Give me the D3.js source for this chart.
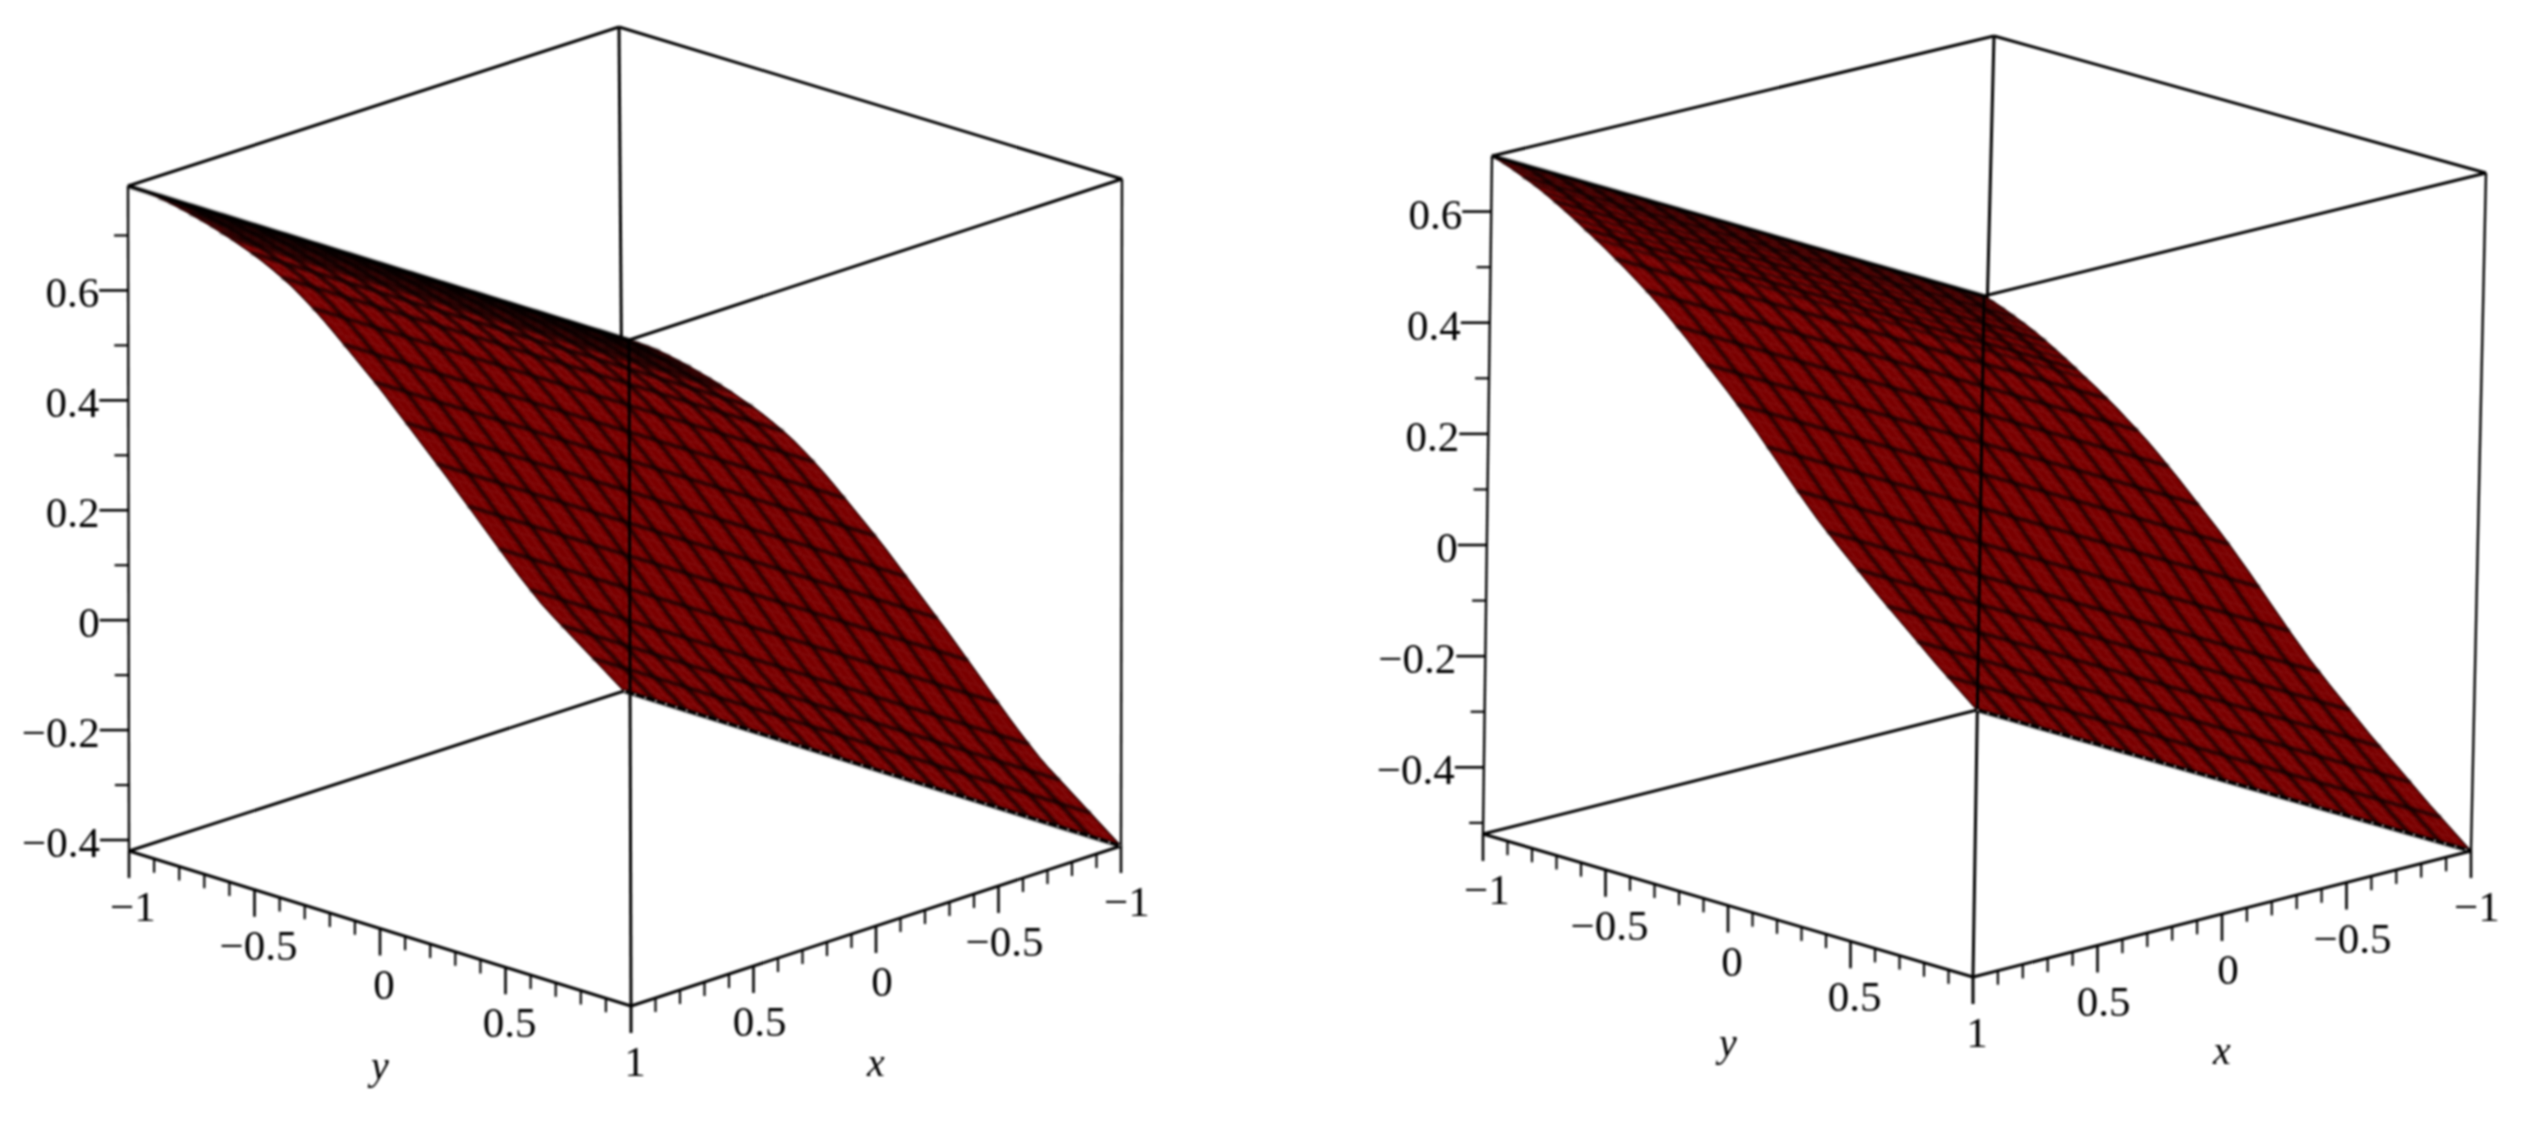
<!DOCTYPE html>
<html><head><meta charset="utf-8">
<script src="https://cdn.jsdelivr.net/npm/d3@7/dist/d3.min.js"></script>
<style>html,body{margin:0;padding:0;background:#fff}svg{display:block;filter:blur(1px)}text{font-family:"Liberation Serif",serif;fill:#000}</style>
</head><body>
<svg id="c" width="2532" height="1125"></svg>
<script>
// z(x) read from each surface, for x running from 1 down to -1 in 48 equal steps
const zLeft=[.790,.778,.765,.751,.736,.720,.704,.687,.670,.652,.634,.615,.596,.576,.555,.533,.510,.485,.459,.432,.404,.375,.346,.317,.288,.258,.227,.196,.165,.134,.103,.072,.040,.008,-.024,-.056,-.088,-.120,-.151,-.181,-.211,-.238,-.264,-.290,-.316,-.342,-.368,-.394,-.420];
const zRight=[.700,.684,.667,.649,.631,.612,.592,.571,.550,.528,.506,.484,.461,.438,.414,.390,.365,.339,.312,.285,.257,.229,.201,.173,.144,.114,.084,.053,.022,-.009,-.040,-.070,-.100,-.128,-.156,-.183,-.210,-.237,-.264,-.290,-.316,-.342,-.368,-.394,-.420,-.445,-.470,-.495,-.520];
const gridX=d3.range(49).map(i=>1-i/24);
const gridY=d3.range(49).map(i=>-1+i/24);
const xyMajor=[-1,-0.5,0,0.5,1];
const xyMinor=[-.9,-.8,-.7,-.6,-.4,-.3,-.2,-.1,.1,.2,.3,.4,.6,.7,.8,.9];
const zMajorTicks=[-.4,-.2,0,.2,.4,.6];
const zMinorLeft=[-.3,-.1,.1,.3,.5,.7];
const zMinorRight=[-.5,-.3,-.1,.1,.3,.5];
const xyLabels=["\u22121","\u22120.5","0","0.5","1"];
const zLabels=["\u22120.4","\u22120.2","0","0.2","0.4","0.6"];
const meshEvery=3; // the blurred source shows the mesh as a coarser lattice
const denseRows=11; // near the top edge the rows crowd together and read as almost black

const panels=[
 {z:zLeft,zDomain:[-.42,.79],zMinor:zMinorLeft,
  top:{A:[128,186],B:[619,27],C:[1122,179],D:[629,340]},
  bot:{A:[129,851],B:[624,691],C:[1121,846],D:[631,1006]}},
 {z:zRight,zDomain:[-.52,.70],zMinor:zMinorRight,
  top:{A:[1492,156],B:[1994,36],C:[2486,173],D:[1984,296]},
  bot:{A:[1483,834],B:[1977,710],C:[2471,851],D:[1973,977]}}
];
const svg=d3.select("#c");
const ink="#000";
panels.forEach(p=>{
 const u=d3.scaleLinear().domain([1,-1]).range([0,1]);
 const v=d3.scaleLinear().domain([-1,1]).range([0,1]);
 const w=d3.scaleLinear().domain(p.zDomain).range([0,1]);
 const bil=(q,s,t)=>{
  const a=d3.interpolate(q.A,q.B)(s),b=d3.interpolate(q.D,q.C)(s);
  return d3.interpolate(a,b)(t);
 };
 const P=(x,y,z)=>{
  const s=u(x),t=v(y);
  return d3.interpolate(bil(p.bot,s,t),bil(p.top,s,t))(w(z));
 };
 const line=d3.line();
 const g=svg.append("g");
 const [z0,z1]=p.zDomain;
 const seg=(a,b,sw=3)=>g.append("path").attr("d",line([a,b])).attr("stroke",ink).attr("stroke-width",sw).attr("fill","none");
 // back edges
 seg(P(1,-1,z0),P(-1,-1,z0));seg(P(-1,-1,z0),P(-1,1,z0));
 seg(P(-1,-1,z0),P(-1,-1,z1));seg(P(1,-1,z1),P(-1,-1,z1));seg(P(-1,-1,z1),P(-1,1,z1));
 seg(P(1,-1,z0),P(1,-1,z1),2.4);seg(P(-1,1,z0),P(-1,1,z1),2.4);
 // surface
 const cells=[];
 d3.range(48).forEach(i=>d3.range(48).forEach(j=>cells.push([i,j])));
 g.append("g").selectAll("path").data(cells).join("path")
  .attr("d",([i,j])=>line([P(gridX[i],gridY[j],p.z[i]),P(gridX[i+1],gridY[j],p.z[i+1]),P(gridX[i+1],gridY[j+1],p.z[i+1]),P(gridX[i],gridY[j+1],p.z[i])])+"Z")
  .attr("fill","#7a0000").attr("stroke","#7a0000").attr("stroke-width",.5);
 const mesh=g.append("g").attr("fill","none").attr("stroke","#000").attr("stroke-width",3.2).attr("stroke-opacity",.8).style("filter","blur(1.1px)");
 gridX.forEach((x,i)=>{
  if(i%meshEvery===0)mesh.append("path").attr("d",line(gridY.map(y=>P(x,y,p.z[i]))));
  else if(i<denseRows)mesh.append("path").attr("d",line(gridY.map(y=>P(x,y,p.z[i])))).attr("stroke-width",2);
 });
 gridY.forEach((y,j)=>{if(j%meshEvery===0&&j>0&&j<48)mesh.append("path").attr("d",line(gridX.map((x,i)=>P(x,y,p.z[i]))));});
 // thin rim on the two curved sides
 [-1,1].forEach(y=>g.append("path").attr("d",line(gridX.map((x,i)=>P(x,y,p.z[i])))).attr("fill","none").attr("stroke","#200").attr("stroke-width",1.2));
 // front edges
 seg(P(1,-1,z1),P(1,1,z1));seg(P(1,1,z1),P(-1,1,z1));
 seg(P(1,1,z0),P(1,1,z1));seg(P(1,-1,z0),P(1,1,z0));seg(P(1,1,z0),P(-1,1,z0));seg(P(-1,-1,z0),P(-1,1,z0),3);
 // specks left by the source mesh along the low edge
 g.append("path").attr("d",line([P(-1,-1,z0),P(-1,1,z0)])).attr("stroke","#fff").attr("stroke-width",1.6).attr("fill","none").attr("stroke-dasharray","1.6 9.2");
 // axes
 const tick=(pt,dx,dy,sw=2.6)=>seg(pt,[pt[0]+dx,pt[1]+dy],sw);
 xyMajor.forEach((t,i)=>{
  const a=P(1,t,z0),b=P(t,1,z0);
  tick(a,0,27);tick(b,0,27);
  g.append("text").attr("x",a[0]+4).attr("y",a[1]+70).attr("text-anchor","middle").attr("font-size",43).text(xyLabels[i]);
  if(t!==1)g.append("text").attr("x",b[0]+6).attr("y",b[1]+70).attr("text-anchor","middle").attr("font-size",43).text(xyLabels[i]);
 });
 xyMinor.forEach(t=>{tick(P(1,t,z0),0,14,2.2);tick(P(t,1,z0),0,14,2.2);});
 zMajorTicks.forEach((t,i)=>{
  const a=P(1,-1,t);tick(a,-29,0);
  g.append("text").attr("x",a[0]-29).attr("y",a[1]+17).attr("text-anchor","end").attr("font-size",43).text(zLabels[i]);
 });
 p.zMinor.forEach(t=>tick(P(1,-1,t),-14,0,2.2));
 const ty=P(1,0,z0),tx=P(0,1,z0);
 g.append("text").attr("x",ty[0]).attr("y",ty[1]+150).attr("text-anchor","middle").attr("font-size",40).attr("font-style","italic").text("y");
 g.append("text").attr("x",tx[0]).attr("y",tx[1]+150).attr("text-anchor","middle").attr("font-size",40).attr("font-style","italic").text("x");
});
</script>
</body></html>
